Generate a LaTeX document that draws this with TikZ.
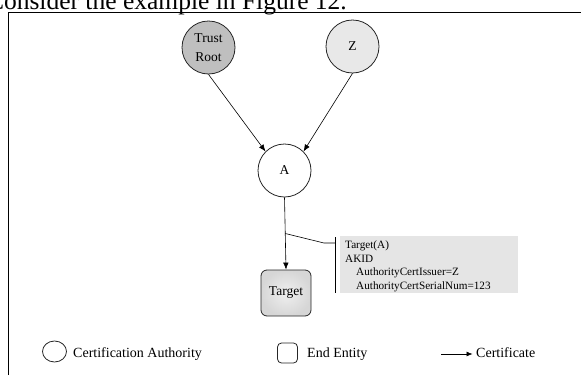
\documentclass[tikz,border=0pt]{standalone}
\usepackage{fontspec}
\setmainfont{Liberation Serif}
\usetikzlibrary{arrows.meta,calc,shapes.geometric}
\begin{document}
\begin{tikzpicture}[x=1pt,y=-1pt,
  ca/.style={circle,draw=black!85,line width=0.8pt,minimum size=53pt,inner sep=0pt,
    align=center,font=\fontsize{13.5}{19}\selectfont},
  ee/.style={rectangle,rounded corners=6pt,draw=black!85,line width=0.8pt,
    minimum width=50pt,minimum height=46pt,inner sep=0pt,font=\fontsize{13.5}{17}\selectfont},
  cert/.style={-{Latex[length=7pt,width=5.5pt]},line width=0.6pt},
  legend/.style={font=\fontsize{14}{16}\selectfont,anchor=base west,inner sep=0pt},
  notebox/.style={rectangle,fill=black!10,anchor=north west,minimum width=178pt,
    minimum height=57pt,inner sep=0pt},
  notetext/.style={font=\fontsize{11.2}{13.7}\selectfont,align=left,anchor=north west,inner sep=0pt}
]
\useasboundingbox (0,0) rectangle (581,375);
\clip (0,0) rectangle (581,375);

% running text above the figure frame
\node[anchor=base east,font=\fontsize{25.5}{30}\selectfont,inner sep=0pt] (caption) at (347,9.5)
  {Consider the example in Figure 12.};

% figure frame
\draw[line width=0.8pt] (8,375) -- (8,12) -- (581,12);

% certification authorities
\node[ca,fill=black!25] (tr) at (208.5,47.5) {Trust\\Root};
\node[ca,fill=black!9] (z) at (352.5,46.5) {Z};
\node[ca,fill=white] (a) at (284.5,170.5) {A};

% end entity
\node[ee,inner color=black!6,outer color=black!16] (t) at (286,293) {Target};

% certificates
\draw[cert] (tr.south) -- (a.north west);
\draw[cert] (z.south) -- (a.north east);
\draw[cert] (a.south) -- (t.north);

% certificate contents
\coordinate (j) at ($(a.south)!0.5!(t.north)$);
\node[notebox] (nb) at (340,236) {};
\coordinate (kink) at (324,243);
\coordinate (bartop) at (335,237);
\coordinate (barbot) at (335,293);
\draw[line width=0.6pt] (j) -- (kink) -- (kink -| bartop);
\draw[line width=0.6pt] (bartop) -- (barbot);
\node[notetext] (nt) at (345,240.5)
  {Target(A)\\AKID\\\hspace*{11pt}AuthorityCertIssuer=Z\\\hspace*{11pt}AuthorityCertSerialNum=123};

% legend
\node[ellipse,draw=black!85,line width=0.8pt,minimum width=24pt,minimum height=21pt,inner sep=0pt] (lca) at (54.5,351.5) {};
\node[legend] (lcat) at (73,357.5) {Certification Authority};
\node[rectangle,rounded corners=4pt,draw=black!85,line width=0.8pt,minimum width=20pt,minimum height=20pt,inner sep=0pt] (lee) at (287.5,353) {};
\node[legend] (leet) at (307,357.5) {End Entity};
\coordinate (lcs) at (441,354);
\node[legend] (lcert) at (476,357.5) {Certificate};
\coordinate (lce) at ([xshift=-3.5pt]lcert.west);
\draw[-{Latex[length=6pt,width=5pt]},line width=0.6pt] (lcs) -- (lcs -| lce);
\end{tikzpicture}
\end{document}
